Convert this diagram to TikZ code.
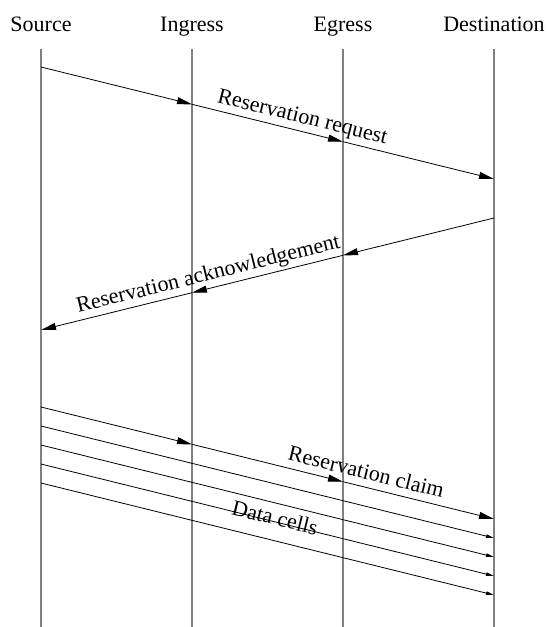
\documentclass[tikz,border=0pt]{standalone}
\usepackage{fontspec}
\setmainfont{Liberation Serif}
\usetikzlibrary{arrows.meta}
\tikzset{
    party/.style={
    anchor=base,inner sep=0pt,font=\fontsize{22}{26}\selectfont
    },
    lifeline/.style={
    draw=gray,line width=1.2pt
    },
    msg/.style={
    line width=0.8pt,-{Triangle[length=15pt,width=7pt]}
    },
    cell/.style={
    line width=0.8pt,-{Triangle[length=8pt,width=3.5pt]}
    },
    msglabel/.style={
    sloped,above,inner sep=2.5pt,text depth=5pt,font=\fontsize{22}{26}\selectfont
    },
}

\begin{document}
\begin{tikzpicture}[x=1pt, y=-1pt]
   \useasboundingbox (0,0) rectangle (547,627);
   \node[party] (src) at (41,31) {Source};
   \node[party] (ing) at (192,31) {Ingress};
   \node[party] (egr) at (343,31) {Egress};
   \node[party] (dst) at (494,31) {Destination};

   % lifelines
   \coordinate (srctop) at (41,49);  \coordinate (srcbot) at (41,627);
   \coordinate (ingtop) at (192,49); \coordinate (ingbot) at (192,627);
   \coordinate (egrtop) at (343,49); \coordinate (egrbot) at (343,627);
   \coordinate (dsttop) at (494,49); \coordinate (dstbot) at (494,627);
   \draw[lifeline] (srctop) -- (srcbot);
   \draw[lifeline] (ingtop) -- (ingbot);
   \draw[lifeline] (egrtop) -- (egrbot);
   \draw[lifeline] (dsttop) -- (dstbot);

   % request
   \coordinate (rq0) at (41,67);
   \coordinate (rq1) at (192,104.3);
   \coordinate (rq2) at (343,141.7);
   \coordinate (rq3) at (494,179);
   \path[msg]
    (rq0) edge (rq1)
    (rq1) edge node [msglabel, pos=0.71] {Reservation request} (rq2)
    (rq2) edge (rq3);

   % acknowledgement
   \coordinate (ak0) at (494,218);
   \coordinate (ak1) at (343,255.3);
   \coordinate (ak2) at (192,292.7);
   \coordinate (ak3) at (41,330);
   \path[msg]
    (ak0) edge (ak1)
    (ak1) edge node [msglabel, pos=0.87] {Reservation acknowledgement} (ak2)
    (ak2) edge (ak3);

   % claim
   \coordinate (cl0) at (41,407);
   \coordinate (cl1) at (192,444.3);
   \coordinate (cl2) at (343,481.7);
   \coordinate (cl3) at (494,519);
   \path[msg]
    (cl0) edge (cl1)
    (cl1) edge (cl2)
    (cl2) edge node [msglabel, pos=0.13] {Reservation claim} (cl3);

   % data cells
   \coordinate (da0) at (41,426); \coordinate (db0) at (494,538);
   \coordinate (da1) at (41,445); \coordinate (db1) at (494,557);
   \coordinate (da2) at (41,464); \coordinate (db2) at (494,576);
   \coordinate (da3) at (41,483); \coordinate (db3) at (494,595);
   \path[cell]
    (da0) edge (db0)
    (da1) edge node [msglabel, below, text depth=0pt, inner sep=6pt, pos=0.524] {Data cells} (db1)
    (da2) edge (db2)
    (da3) edge (db3);
  \end{tikzpicture}
\end{document}
